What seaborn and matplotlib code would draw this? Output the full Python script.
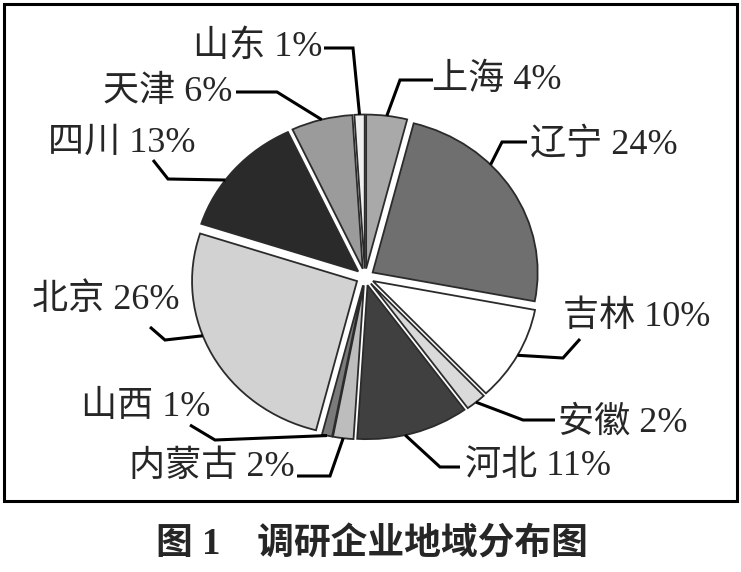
import matplotlib
matplotlib.use('Agg')
import matplotlib.pyplot as plt
import seaborn as sns
import numpy as np
from matplotlib.patches import Rectangle

REGIONS = ['上海', '辽宁', '吉林', '安徽', '河北', '内蒙古', '山西', '北京', '四川', '天津', '山东']
SHARES = [4, 24, 10, 2, 11, 2, 1, 26, 13, 6, 1]
CAPTION = '图 1\u3000调研企业地域分布图'

GRAYS = ['#a9a9a9', '#6f6f6f', '#ffffff', '#dadada', '#404040', '#bdbdbd',
         '#7a7a7a', '#d2d2d2', '#2a2a2a', '#9b9b9b', '#f0f0f0']
EXPLODE = 0.055
W, H = 741, 572

# label layout in image pixels (y down): text anchor, ha, leader start, elbow, angle nudge (deg)
LAYOUT = {
    '上海': ((432, 80), 'left', (433, 80), (400, 80), 0),
    '辽宁': ((530, 145), 'left', (527, 142), (502, 142), 12),
    '吉林': ((563, 317), 'left', (580, 339), (563, 358), 0),
    '安徽': ((558, 423), 'left', (555, 420), (523, 420), 0),
    '河北': ((465, 466), 'left', (460, 467), (440, 467), -3),
    '内蒙古': ((295, 467), 'right', (297, 476), (330, 476), 0),
    '山西': ((210, 407), 'right', (190, 425), (215, 440), 0),
    '北京': ((180, 300), 'right', (150, 327), (165, 340), -8),
    '四川': ((195, 143), 'right', (153, 160), (168, 179), 5),
    '天津': ((232, 92), 'right', (236, 92), (277, 92), 0),
    '山东': ((322, 47), 'right', (324, 48), (353, 48), 0),
}


def draw_pie(fig):
    # pie is slightly squashed in the reference, so aspect is left auto
    rx, ry = 165, 154
    cx, cy = 365, H - 277
    ax = fig.add_axes([(cx - 1.2 * rx) / W, (cy - 1.2 * ry) / H, 2.4 * rx / W, 2.4 * ry / H])
    wedges, _ = ax.pie(SHARES, colors=GRAYS, startangle=90, counterclock=False,
                       explode=[EXPLODE] * len(SHARES),
                       wedgeprops=dict(edgecolor='#2b2b2b', linewidth=1.3))
    ax.set_xlim(-1.2, 1.2)
    ax.set_ylim(-1.2, 1.2)
    ax.set_aspect('auto')
    ax.axis('off')
    return ax, wedges


def draw_labels(ax, wedges, ov):
    for name, share, w in zip(REGIONS, SHARES, wedges):
        (tx, ty), ha, (sx, sy), (ex, ey), nudge = LAYOUT[name]
        ang = np.deg2rad((w.theta1 + w.theta2) / 2 + nudge)
        pt = np.array(w.center) + np.array([np.cos(ang), np.sin(ang)]) * w.r
        dx, dy = ax.transData.transform(pt)
        ov.plot([sx, ex, dx], [sy, ey, H - dy], color='black', lw=2.2,
                solid_capstyle='butt', solid_joinstyle='miter')
        ov.text(tx, ty, f'{name} {share}%', ha=ha, va='center', fontsize=26)


def main():
    sns.set_theme(style='white')
    plt.rcParams['font.family'] = ['Liberation Serif', 'Noto Sans CJK SC']

    fig = plt.figure(figsize=(W / 100, H / 100), dpi=100)
    fig.patch.set_facecolor('white')
    ax, wedges = draw_pie(fig)

    ov = fig.add_axes([0, 0, 1, 1])
    ov.set_xlim(0, W)
    ov.set_ylim(H, 0)
    ov.axis('off')
    ov.patch.set_alpha(0)

    draw_labels(ax, wedges, ov)
    ov.add_patch(Rectangle((4, 4), 733, 497, fill=False, lw=2.2, ec='black'))
    ov.text(372, 545, CAPTION, ha='center', va='center', fontsize=26.5, fontweight='bold')

    fig.savefig('out.png', dpi=100, facecolor='white')


if __name__ == '__main__':
    main()
